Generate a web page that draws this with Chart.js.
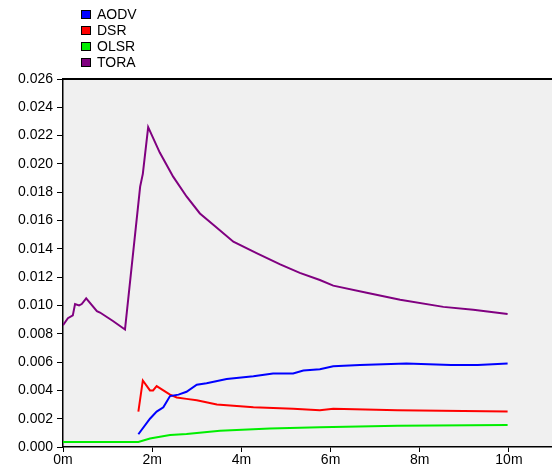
<!DOCTYPE html>
<html><head><meta charset="utf-8">
<script src="https://cdn.jsdelivr.net/npm/chart.js@4/dist/chart.umd.min.js"></script>
<style>
html,body{margin:0;padding:0;background:#fff;overflow:hidden;}
#wrap{position:relative;width:552px;height:470px;overflow:hidden;}
#c{display:block;}
#legend{position:absolute;left:81px;top:6px;font:14px "Liberation Sans",Arial,sans-serif;color:#000;}
#legend div{height:16px;line-height:14px;display:flex;align-items:center;}
#legend span.box{display:inline-block;width:8px;height:7px;border:1px solid #000;margin-right:6px;}
</style></head>
<body><div id="wrap"><canvas id="c" width="558" height="470"></canvas><div id="legend"></div></div>
<script>
const seriesNames = ["AODV", "DSR", "OLSR", "TORA"];
const seriesColors = ["#0000ff", "#ff0000", "#00ee00", "#800080"];

const aodvT = [1.69, 1.95, 2.10, 2.25, 2.40, 2.59, 2.77, 3.00, 3.22, 3.67, 4.27, 4.71, 5.16, 5.39, 5.76, 6.06, 6.66, 7.70, 8.70, 9.30, 9.97];
const aodvV = [0.0009, 0.0020, 0.0025, 0.0028, 0.0036, 0.0037, 0.0039, 0.0044, 0.0045, 0.0048, 0.0050, 0.0052, 0.0052, 0.0054, 0.0055, 0.0057, 0.0058, 0.0059, 0.0058, 0.0058, 0.0059];

const dsrT = [1.69, 1.79, 1.95, 2.02, 2.10, 2.25, 2.40, 2.55, 2.77, 3.00, 3.45, 4.27, 5.16, 5.76, 6.06, 7.50, 9.97];
const dsrV = [0.0025, 0.0047, 0.0040, 0.0040, 0.0043, 0.0040, 0.0037, 0.0035, 0.0034, 0.0033, 0.0030, 0.0028, 0.0027, 0.0026, 0.0027, 0.0026, 0.0025];

const olsrT = [0, 1.69, 1.95, 2.40, 2.77, 3.52, 4.64, 5.76, 7.50, 9.97];
const olsrV = [0.00035, 0.00035, 0.0006, 0.00085, 0.00092, 0.00115, 0.0013, 0.0014, 0.0015, 0.00155];

const toraT = [0, 0.11, 0.22, 0.27, 0.36, 0.42, 0.52, 0.76, 0.83, 1.12, 1.39, 1.73, 1.79, 1.91, 2.17, 2.47, 2.77, 3.07, 3.37, 3.82, 4.34, 4.87, 5.31, 5.76, 6.06, 6.81, 7.56, 8.53, 9.20, 9.97];
const toraV = [0.0086, 0.0091, 0.0093, 0.0101, 0.0100, 0.0101, 0.0105, 0.0096, 0.0095, 0.0089, 0.0083, 0.0184, 0.0193, 0.0226, 0.0208, 0.0191, 0.0177, 0.0165, 0.0157, 0.0145, 0.0137, 0.0129, 0.0123, 0.0118, 0.0114, 0.0109, 0.0104, 0.0099, 0.0097, 0.0094];

const xTicks = [0, 2, 4, 6, 8, 10];
const xTickLabels = ["0m", "2m", "4m", "6m", "8m", "10m"];
const yTicks = [0, 0.002, 0.004, 0.006, 0.008, 0.010, 0.012, 0.014, 0.016, 0.018, 0.020, 0.022, 0.024, 0.026];
const yTickLabels = ["0.000","0.002","0.004","0.006","0.008","0.010","0.012","0.014","0.016","0.018","0.020","0.022","0.024","0.026"];

function pts(t, v){ return t.map((x,i)=>({x:x, y:v[i]})); }
const allT = [aodvT, dsrT, olsrT, toraT];
const allV = [aodvV, dsrV, olsrV, toraV];

const datasets = seriesNames.map((n,i)=>({
  label:n, data:pts(allT[i], allV[i]), borderColor:seriesColors[i], backgroundColor:seriesColors[i],
  borderWidth:2, pointRadius:0, tension:0, fill:false
}));
const lg = document.getElementById('legend');
seriesNames.forEach((n,i)=>{
  const d=document.createElement('div');
  d.innerHTML='<span class="box" style="background:'+seriesColors[i]+'"></span>'+n;
  lg.appendChild(d);
});

const bgPlugin = {
  id:'bg',
  beforeDraw(chart){
    const a=chart.chartArea, ctx=chart.ctx;
    ctx.save(); ctx.fillStyle='#f0f0f0'; ctx.fillRect(a.left,a.top,a.right-a.left,a.bottom-a.top);
    ctx.restore();
  },
  afterDraw(chart){
    const a=chart.chartArea, ctx=chart.ctx;
    ctx.save();
    ctx.fillStyle='#000'; ctx.fillRect(a.left, a.top-1, a.right-a.left, 2);
    ctx.restore();
  }
};
const font = {family:'"Liberation Sans", Arial, sans-serif', size:14};
new Chart(document.getElementById('c'), {
  type:'line',
  data:{datasets},
  plugins:[bgPlugin],
  options:{
    responsive:false, animation:false, devicePixelRatio:1,
    layout:{padding:{top:79,left:0,right:0,bottom:0}},
    plugins:{legend:{display:false}, tooltip:{enabled:false}},
    scales:{
      x:{type:'linear', min:0, max:11.1,
        afterBuildTicks(s){ s.ticks = xTicks.map(v=>({value:v})); },
        afterFit(s){ s.height=23; },
        ticks:{color:'#000', font, padding:0, maxRotation:0, autoSkip:false,
          callback:(v)=>xTickLabels[xTicks.indexOf(v)]},
        grid:{drawOnChartArea:false, color:'#000', tickLength:5},
        border:{color:'#000', width:1.5}
      },
      y:{type:'linear', min:0, max:0.026,
        afterBuildTicks(s){ s.ticks = yTicks.map(v=>({value:v})); },
        afterFit(s){ s.width=63; },
        ticks:{color:'#000', font, padding:4, autoSkip:false,
          callback:(v)=>{ const i=yTicks.findIndex(t=>Math.abs(t-v)<1e-9); return yTickLabels[i]; }},
        grid:{drawOnChartArea:false, color:'#000', tickLength:6},
        border:{color:'#000', width:1.5}
      }
    }
  }
});
</script></body></html>
